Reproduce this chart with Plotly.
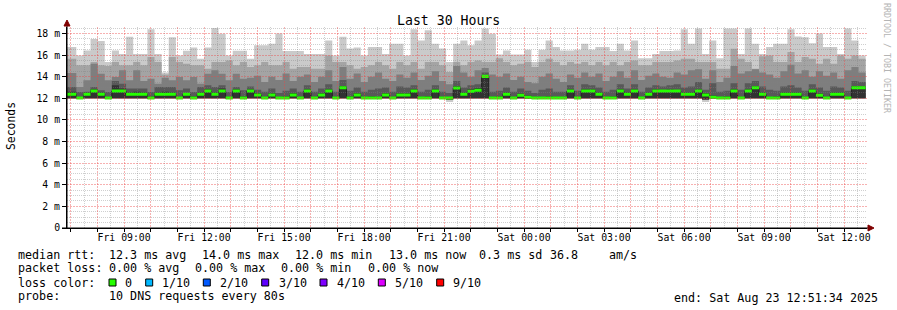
import plotly.graph_objects as go
import pandas as pd

# ---------------- data (milliseconds) ----------------
bin_start = "2025-08-22 06:40:30"      # 16-minute consolidated steps
step = "16min"
x_start = "2025-08-22 06:51:34"
x_end = "2025-08-23 12:51:34"

rtt_max = [16.74, 16.74, 15.97, 16.43, 17.50, 17.30, 15.35, 16.43, 16.10, 17.70,
           16.10, 16.10, 18.40, 16.10, 14.40, 17.66, 15.97, 16.40, 16.70, 15.66,
           16.70, 18.50, 17.97, 15.97, 16.40, 16.40, 15.66, 16.90, 16.90, 17.05,
           18.00, 16.37, 16.37, 16.37, 16.10, 16.10, 16.10, 17.35, 15.97, 17.70,
           16.60, 16.70, 15.97, 16.74, 16.74, 16.10, 17.05, 17.05, 15.97, 18.40,
           17.35, 18.30, 17.05, 16.60, 15.35, 17.05, 17.35, 16.90, 17.35, 18.46,
           17.97, 16.06, 16.43, 16.06, 16.06, 16.50, 15.35, 16.50, 17.35, 16.74,
           16.43, 16.43, 16.50, 17.05, 16.50, 16.74, 16.74, 16.37, 17.05, 16.43,
           17.35, 15.70, 15.70, 16.10, 16.37, 16.37, 16.43, 18.40, 17.05, 18.46,
           16.10, 17.35, 15.70, 18.46, 18.46, 16.10, 18.46, 17.05, 16.10, 16.74,
           17.05, 17.05, 18.40, 17.72, 17.66, 17.10, 18.00, 16.74, 16.74, 16.10,
           18.46, 17.35, 15.97]

rtt_p9 = [15.66, 15.66, 15.05, 15.05, 15.35, 15.05, 15.00, 15.35, 15.05, 15.05,
          15.35, 15.05, 15.82, 15.35, 14.20, 15.82, 15.35, 15.20, 15.05, 15.05,
          14.74, 15.35, 15.35, 15.50, 15.05, 15.35, 14.89, 15.05, 15.35, 15.05,
          15.05, 15.35, 14.74, 14.89, 14.89, 14.74, 14.74, 15.97, 15.35, 15.35,
          15.05, 14.74, 14.89, 15.05, 15.35, 15.05, 14.74, 15.35, 15.05, 15.35,
          14.74, 15.35, 15.35, 15.05, 14.43, 15.35, 15.05, 15.35, 15.51, 15.35,
          15.35, 15.70, 15.35, 15.05, 15.20, 15.35, 14.89, 15.35, 15.66, 15.35,
          15.05, 15.35, 15.20, 15.35, 15.05, 15.35, 15.05, 15.35, 15.05, 15.35,
          15.51, 15.05, 15.05, 15.35, 15.35, 15.35, 15.51, 15.66, 15.66, 15.35,
          15.35, 15.35, 14.74, 14.74, 16.58, 15.66, 15.35, 14.74, 15.90, 15.97,
          15.35, 15.35, 16.28, 15.35, 15.82, 15.66, 15.20, 15.66, 15.20, 15.97,
          15.66, 15.97, 15.66]

rtt_p8 = [14.34, 14.34, 13.05, 13.67, 15.20, 14.28, 13.67, 13.97, 14.59, 13.67,
          14.59, 13.60, 13.82, 13.36, 13.90, 13.67, 13.97, 13.67, 13.97, 13.36,
          14.28, 14.59, 14.28, 13.67, 14.28, 13.82, 13.90, 14.10, 13.50, 14.00,
          13.70, 14.30, 13.60, 14.00, 14.20, 13.50, 14.00, 14.60, 13.60, 14.90,
          13.80, 14.30, 13.50, 14.00, 14.40, 13.80, 13.60, 14.20, 13.90, 14.40,
          13.70, 14.10, 14.50, 13.60, 13.30, 15.00, 14.40, 14.00, 14.60, 14.80,
          14.20, 14.00, 14.30, 13.70, 14.00, 13.50, 13.40, 14.00, 14.30, 13.80,
          13.50, 14.20, 13.90, 14.40, 14.00, 14.30, 13.60, 14.00, 14.50, 13.90,
          14.60, 13.70, 14.10, 14.30, 14.00, 13.90, 14.40, 14.20, 14.60, 14.70,
          13.80, 14.60, 13.50, 13.90, 15.00, 14.30, 14.50, 14.70, 14.40, 14.20,
          13.90, 14.50, 15.10, 14.30, 14.60, 14.00, 14.50, 14.10, 14.40, 13.80,
          14.60, 14.90, 14.40]

rtt_p7 = [13.05, 13.05, 12.59, 12.60, 13.05, 12.74, 12.59, 13.60, 13.36, 12.90,
          12.90, 12.90, 12.59, 13.05, 13.05, 13.05, 12.74, 12.90, 12.59, 13.05,
          13.20, 13.05, 13.20, 12.59, 13.05, 12.74, 13.10, 12.80, 12.60, 12.90,
          12.50, 12.70, 12.90, 12.60, 13.20, 12.60, 12.90, 13.30, 12.60, 13.70,
          12.70, 13.00, 12.60, 12.80, 12.90, 13.00, 12.60, 13.10, 13.00, 13.20,
          12.60, 12.80, 13.20, 12.60, 12.50, 13.60, 13.00, 13.20, 13.30, 14.40,
          12.60, 12.70, 13.00, 12.60, 12.90, 12.70, 12.50, 12.80, 12.90, 12.60,
          12.60, 13.20, 12.70, 13.30, 13.20, 13.00, 12.60, 12.80, 13.30, 12.90,
          13.30, 12.60, 13.00, 13.20, 13.10, 13.20, 13.30, 13.00, 13.10, 13.50,
          12.80, 13.40, 12.60, 12.70, 13.40, 12.80, 13.40, 13.60, 13.10, 12.80,
          12.70, 13.10, 13.20, 13.00, 12.70, 13.30, 13.00, 12.70, 13.10, 13.00,
          12.70, 13.60, 13.50]

rtt_p6 = [12.60, 12.60, 12.15, 12.55, 12.85, 12.55, 12.15, 13.20, 12.90, 12.55,
          12.60, 12.55, 12.20, 12.55, 12.60, 12.55, 12.15, 12.50, 12.20, 12.55,
          12.85, 12.55, 12.90, 12.15, 12.85, 12.20, 12.85, 12.50, 12.15, 12.50,
          12.15, 12.20, 12.50, 12.15, 12.85, 12.15, 12.50, 12.85, 12.15, 13.15,
          12.20, 12.50, 12.15, 12.20, 12.15, 12.50, 12.15, 12.50, 12.50, 12.85,
          12.15, 12.20, 12.85, 12.15, 12.15, 13.15, 12.55, 12.85, 12.95, 14.15,
          12.15, 12.20, 12.55, 12.15, 12.45, 12.25, 12.15, 12.15, 12.20, 12.15,
          12.15, 12.85, 12.15, 12.85, 12.85, 12.55, 12.15, 12.20, 12.85, 12.55,
          12.85, 12.15, 12.55, 12.85, 12.80, 12.85, 12.80, 12.55, 12.55, 12.85,
          12.50, 12.25, 12.15, 12.20, 12.85, 12.15, 12.85, 13.15, 12.55, 12.15,
          12.20, 12.55, 12.55, 12.55, 12.15, 12.85, 12.45, 12.15, 12.55, 12.55,
          12.15, 13.15, 13.10]

rtt_low = [12.00, 12.00, 11.99, 12.00, 12.00, 12.00, 11.99, 12.00, 12.00, 12.00,
           12.00, 12.00, 11.99, 12.00, 12.00, 12.00, 11.99, 12.00, 11.99, 12.00,
           12.00, 12.00, 12.00, 11.99, 12.00, 11.99, 12.00, 12.00, 11.99, 12.00,
           11.99, 11.99, 12.00, 11.99, 12.00, 11.99, 12.00, 12.00, 11.99, 12.00,
           11.99, 12.00, 11.99, 11.99, 11.99, 12.00, 11.99, 12.00, 12.00, 12.00,
           11.99, 11.99, 12.00, 11.98, 11.90, 12.00, 12.00, 12.00, 12.00, 12.00,
           11.99, 11.99, 12.00, 11.99, 12.00, 11.99, 11.99, 11.99, 11.99, 11.99,
           11.99, 12.00, 11.99, 12.00, 12.00, 12.00, 11.99, 11.99, 12.00, 12.00,
           12.00, 11.99, 12.00, 12.00, 12.00, 12.00, 12.00, 12.00, 12.00, 12.00,
           11.90, 11.99, 11.99, 11.99, 12.00, 11.99, 12.00, 12.00, 12.00, 11.99,
           11.99, 12.00, 12.00, 12.00, 11.99, 12.00, 12.00, 11.99, 12.00, 12.00,
           11.99, 12.00, 12.00]

rtt_min = [11.97, 11.97, 11.96, 11.97, 11.98, 11.97, 11.96, 11.98, 11.97, 11.97,
           11.97, 11.97, 11.96, 11.97, 11.97, 11.97, 11.96, 11.97, 11.96, 11.97,
           11.98, 11.97, 11.98, 11.96, 11.97, 11.96, 11.97, 11.97, 11.96, 11.97,
           11.96, 11.96, 11.97, 11.96, 11.97, 11.96, 11.97, 11.97, 11.96, 11.98,
           11.96, 11.97, 11.96, 11.96, 11.96, 11.97, 11.96, 11.97, 11.97, 11.97,
           11.96, 11.96, 11.97, 11.95, 11.66, 11.98, 11.97, 11.97, 11.98, 11.98,
           11.96, 11.96, 11.97, 11.96, 11.97, 11.96, 11.96, 11.96, 11.96, 11.96,
           11.96, 11.97, 11.96, 11.97, 11.97, 11.97, 11.96, 11.96, 11.97, 11.97,
           11.97, 11.96, 11.97, 11.97, 11.97, 11.97, 11.97, 11.97, 11.97, 11.97,
           11.66, 11.96, 11.96, 11.96, 11.97, 11.96, 11.97, 11.98, 11.97, 11.96,
           11.96, 11.97, 11.97, 11.97, 11.96, 11.97, 11.97, 11.96, 11.97, 11.97,
           11.96, 11.98, 11.98]

rtt_median = [12.37, 12.37, 12.03, 12.37, 12.68, 12.37, 12.03, 12.68, 12.68, 12.37,
              12.37, 12.37, 12.03, 12.37, 12.37, 12.37, 12.03, 12.37, 12.03, 12.37,
              12.68, 12.37, 12.68, 12.03, 12.68, 12.03, 12.68, 12.30, 12.03, 12.30,
              12.03, 12.03, 12.30, 12.03, 12.67, 12.03, 12.30, 12.67, 12.03, 12.98,
              12.03, 12.30, 12.03, 12.03, 12.03, 12.30, 12.03, 12.30, 12.30, 12.67,
              12.03, 12.03, 12.67, 12.03, 12.03, 12.96, 12.37, 12.65, 12.74, 14.03,
              12.03, 12.03, 12.37, 12.03, 12.28, 12.10, 12.03, 12.03, 12.03, 12.03,
              12.03, 12.67, 12.03, 12.67, 12.67, 12.37, 12.03, 12.03, 12.67, 12.37,
              12.67, 12.03, 12.37, 12.67, 12.67, 12.67, 12.67, 12.37, 12.37, 12.67,
              12.30, 12.10, 12.03, 12.03, 12.67, 12.03, 12.67, 12.98, 12.37, 12.03,
              12.03, 12.37, 12.37, 12.37, 12.03, 12.67, 12.28, 12.03, 12.37, 12.37,
              12.03, 12.98, 12.98]

y_tick_values = [0, 2, 4, 6, 8, 10, 12, 14, 16, 18]
y_tick_labels = ["0", "2 m", "4 m", "6 m", "8 m", "10 m", "12 m", "14 m", "16 m", "18 m"]
x_label_times = ["2025-08-22 09:00", "2025-08-22 12:00", "2025-08-22 15:00", "2025-08-22 18:00",
                 "2025-08-22 21:00", "2025-08-23 00:00", "2025-08-23 03:00", "2025-08-23 06:00",
                 "2025-08-23 09:00", "2025-08-23 12:00"]
x_labels = ["Fri 09:00", "Fri 12:00", "Fri 15:00", "Fri 18:00", "Fri 21:00",
            "Sat 00:00", "Sat 03:00", "Sat 06:00", "Sat 09:00", "Sat 12:00"]

loss_names = ["0", "1/10", "2/10", "3/10", "4/10", "5/10", "9/10"]
loss_colors = ["#26ff00", "#00b8ff", "#0059ff", "#5e00ff", "#7e00ff", "#dd00ff", "#ff0000"]

# ---------------- styling ----------------
FONT = "DejaVu Sans Mono"
SMOKE = ["#cacaca", "#a4a4a4", "#7e7e7e", "#585858", "#323232"]
MGRID = "rgba(235,70,70,0.42)"
GRID = "rgba(130,130,130,0.38)"
ARROW = "#800000"
MED_HALF = 0.14  # half thickness of the median bar (ms)
Y_RANGE = [0, 18.6]

PL, PR, PT, PB = 67, 30, 27, 82
W, H = 897, 310
PW, PH = W - PL - PR, H - PT - PB


def px(x):
    return (x - PL) / PW


def py(y):
    return (H - PB - y) / PH


times = pd.date_range(bin_start, periods=len(rtt_median) + 1, freq=step)


def ext(a):
    return list(a) + [a[-1]]


fig = go.Figure()

bands = [(rtt_min, rtt_max), (rtt_low, rtt_p9), (rtt_low, rtt_p8), (rtt_low, rtt_p7), (rtt_low, rtt_p6)]
for (lo, hi), col in zip(bands, SMOKE):
    fig.add_trace(go.Scatter(x=times, y=ext(lo), mode="lines", line=dict(width=0, shape="hv"),
                             hoverinfo="skip", showlegend=False))
    fig.add_trace(go.Scatter(x=times, y=ext(hi), mode="lines", line=dict(width=0, shape="hv"),
                             fill="tonexty", fillcolor=col, hoverinfo="skip", showlegend=False))

# dark median step line
fig.add_trace(go.Scatter(x=times, y=ext(rtt_median), mode="lines",
                         line=dict(width=1, color="#202020", shape="hv"),
                         hoverinfo="skip", showlegend=False))
# green median bar (loss 0)
fig.add_trace(go.Scatter(x=times, y=ext([m - MED_HALF for m in rtt_median]), mode="lines",
                         line=dict(width=0, shape="hv"), hoverinfo="skip", showlegend=False))
fig.add_trace(go.Scatter(x=times, y=ext([m + MED_HALF for m in rtt_median]), mode="lines",
                         line=dict(width=0, shape="hv"), fill="tonexty", fillcolor=loss_colors[0],
                         hoverinfo="skip", showlegend=False))

# an empty trace on a second, identical subplot whose grid is drawn above the smoke
fig.add_trace(go.Scatter(x=[], y=[], xaxis="x2", yaxis="y2", hoverinfo="skip", showlegend=False))

hour_ticks = pd.date_range("2025-08-22 07:00", "2025-08-23 12:00", freq="1h")
half_hour_ticks = pd.date_range("2025-08-22 06:30", "2025-08-23 12:30", freq="1h")
label_map = {pd.Timestamp(t): l for t, l in zip(x_label_times, x_labels)}
hour_text = [label_map.get(t, "") for t in hour_ticks]
y_minor_vals = [i * 0.5 for i in range(1, 38) if i % 4 != 0]

xgrid = dict(type="date", range=[x_start, x_end], tickmode="array", tickvals=list(hour_ticks),
             showgrid=True, gridcolor=MGRID, griddash="2px,1px", gridwidth=1,
             minor=dict(tickmode="array", tickvals=list(half_hour_ticks), showgrid=True,
                        gridcolor=GRID, griddash="1px,1px", gridwidth=1),
             zeroline=False, fixedrange=True, automargin=False)
ygrid = dict(range=Y_RANGE, tickmode="array", tickvals=y_tick_values,
             showgrid=True, gridcolor=MGRID, griddash="2px,1px", gridwidth=1,
             minor=dict(tickmode="array", tickvals=y_minor_vals, showgrid=True, gridcolor=GRID,
                        griddash="1px,1px", gridwidth=1),
             zeroline=False, fixedrange=True, automargin=False)

fig.update_layout(
    xaxis=dict(type="date", range=[x_start, x_end], tickmode="array",
               tickvals=list(hour_ticks), ticktext=hour_text,
               ticks="outside", ticklen=3, tickcolor="black", ticklabelstandoff=-3,
               showline=True, linecolor="black", linewidth=1, zeroline=False, showgrid=False,
               tickfont=dict(family=FONT, size=9.8, color="black"), fixedrange=True,
               automargin=False),
    yaxis=dict(range=Y_RANGE, tickmode="array", tickvals=y_tick_values, ticktext=y_tick_labels,
               ticks="outside", ticklen=4, tickcolor="black",
               showline=True, linecolor="black", linewidth=1, zeroline=False, showgrid=False,
               tickfont=dict(family=FONT, size=9.8, color="black"), fixedrange=True,
               automargin=False),
    xaxis2=dict(xgrid, anchor="y2", showticklabels=False, ticks="", showline=False),
    yaxis2=dict(ygrid, anchor="x2", showticklabels=False, ticks="", showline=False),
)

shapes = []
# axis extensions and arrows
shapes.append(dict(type="line", xref="paper", yref="paper", x0=0, x1=0, y0=0, y1=py(24),
                   line=dict(color="black", width=1)))
shapes.append(dict(type="path", xref="paper", yref="paper",
                   path=f"M {px(64.0)},{py(26)} L {px(70.0)},{py(26)} L {px(67)},{py(20)} Z",
                   fillcolor=ARROW, line=dict(color=ARROW, width=1)))
shapes.append(dict(type="line", xref="paper", yref="paper", x0=px(62), x1=px(869), y0=0, y1=0,
                   line=dict(color="black", width=1)))
shapes.append(dict(type="path", xref="paper", yref="paper",
                   path=f"M {px(868)},{py(225)} L {px(868)},{py(231)} L {px(874)},{py(228)} Z",
                   fillcolor=ARROW, line=dict(color=ARROW, width=1)))

annotations = []


def txt(s, x, y, size=11.7, anchor="left", color="black", angle=0):
    annotations.append(dict(text=s, x=px(x), y=py(y), xref="paper", yref="paper",
                            xanchor=anchor, yanchor="middle", showarrow=False,
                            textangle=angle, font=dict(family=FONT, size=size, color=color)))


txt("Last 30 Hours", 448, 20, size=13.2, anchor="center")
txt("Seconds", 11, 126, size=11.4, anchor="center", angle=-90)
txt("RRDTOOL / TOBI OETIKER", 887, 58, size=8.3, anchor="center", color="#b4b4b4", angle=90)

row1 = 254.5
txt("median rtt:", 16, row1)
txt("12.3 ms avg", 107.3, row1)
txt("14.0 ms max", 200, row1)
txt("12.0 ms min", 293.3, row1)
txt("13.0 ms now", 386.7, row1)
txt("0.3 ms sd", 477.3, row1)
txt("36.8", 548.3, row1)
txt("am/s", 606.7, row1)

row2 = 268.3
txt("packet loss:", 16, row2)
txt("0.00 % avg", 107.3, row2)
txt("0.00 % max", 193.3, row2)
txt("0.00 % min", 279.3, row2)
txt("0.00 % now", 366, row2)

row3 = 282.5
txt("loss color:", 16, row3)
sq_left = [109, 145.7, 203.3, 261.7, 320, 378.3, 436.7]
lab_left = [123.3, 160, 218.3, 276.7, 335, 393.3, 450.5]
for name, col, sx, lx in zip(loss_names, loss_colors, sq_left, lab_left):
    shapes.append(dict(type="rect", xref="paper", yref="paper",
                       x0=px(sx), x1=px(sx + 7), y0=py(row3 + 3.5), y1=py(row3 - 3.5),
                       fillcolor=col, line=dict(color="black", width=1)))
    txt(name, lx, row3)

row4 = 296
txt("probe:", 16, row4)
txt("10 DNS requests every 80s", 107.3, row4)
txt("end: Sat Aug 23 12:51:34 2025", 880, row4 + 1.5, anchor="right")

fig.update_layout(width=W, height=H,
                  margin=dict(l=PL, r=PR, t=PT, b=PB, autoexpand=False),
                  paper_bgcolor="white", plot_bgcolor="rgba(0,0,0,0)", showlegend=False,
                  font=dict(family=FONT, color="black"),
                  shapes=shapes, annotations=annotations)

fig.write_html("out.html", config={"displayModeBar": False})
